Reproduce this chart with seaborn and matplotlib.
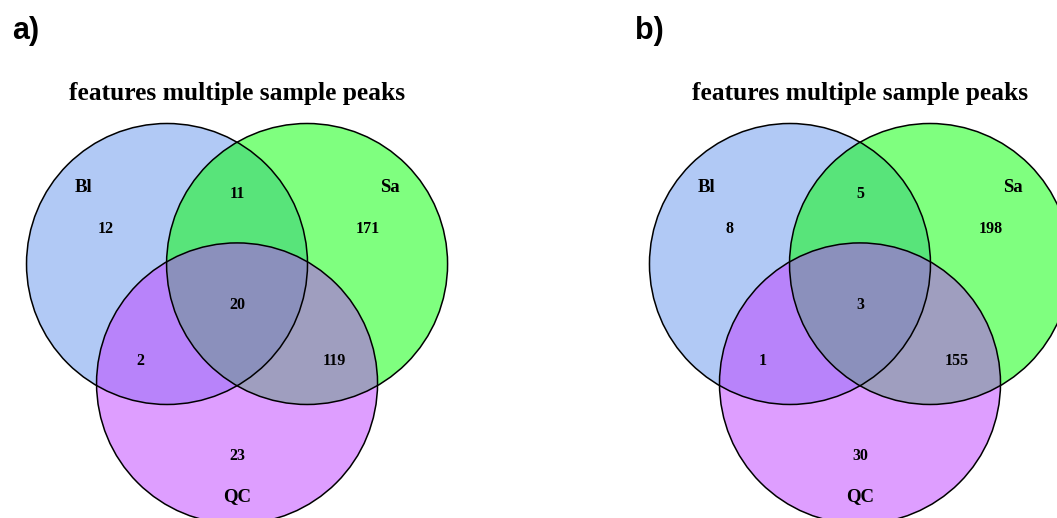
import numpy as np
import matplotlib
matplotlib.use("Agg")
import matplotlib.pyplot as plt
from matplotlib.patches import Circle
import seaborn as sns

# Set names and the count in each region of the three-way Venn diagrams
set_names = ["Bl", "Sa", "QC"]
region_keys = ["Bl", "Sa", "QC", "Bl&Sa", "Bl&QC", "Sa&QC", "Bl&Sa&QC"]
counts_a = [12, 171, 23, 11, 2, 119, 20]
counts_b = [8, 198, 30, 5, 1, 155, 3]
panel_tags = ["a)", "b)"]
panel_title = "features multiple sample peaks"

sns.set_theme(style="white")
plt.rcParams["font.family"] = ["Liberation Serif", "DejaVu Serif"]
plt.rcParams["text.color"] = "black"

set_colors = ["#6495ED", "#00FF00", "#BF3EFF"]

# Geometry in units of the circle radius
centers = {"Bl": (-0.4985, 0.0), "Sa": (0.4985, 0.0), "QC": (0.0, -0.85)}
region_pos = {
    "Bl": (-0.932, 0.249),
    "Sa": (0.932, 0.249),
    "QC": (0.0, -1.367),
    "Bl&Sa": (0.0, 0.498),
    "Bl&QC": (-0.690, -0.690),
    "Sa&QC": (0.690, -0.690),
    "Bl&Sa&QC": (0.0, -0.292),
}
name_pos = {"Bl": (-1.089, 0.541), "Sa": (1.089, 0.541), "QC": (0.0, -1.658)}
panel_offset = 4.434

fig = plt.figure(figsize=(10.57, 5.18), dpi=100)
ax = fig.add_axes([0, 0, 1, 1])
ax.set_xlim(-1.687, 5.836)
ax.set_ylim(-1.808, 1.879)
ax.set_aspect("equal")
ax.axis("off")

for p, counts in enumerate([counts_a, counts_b]):
    dx = p * panel_offset
    # translucent fills first, outlines afterwards so every edge stays black
    for name, col in zip(set_names, set_colors):
        cx, cy = centers[name]
        ax.add_patch(Circle((cx + dx, cy), 1.0, facecolor=col, alpha=0.5,
                            edgecolor="none", zorder=1))
    for name in set_names:
        cx, cy = centers[name]
        ax.add_patch(Circle((cx + dx, cy), 1.0, facecolor="none",
                            edgecolor="black", linewidth=1.1, zorder=2))
    for key, val in zip(region_keys, counts):
        x, y = region_pos[key]
        ax.text(x + dx, y, str(val), ha="center", va="center",
                fontsize=11.5, fontweight="bold", zorder=3)
    for name in set_names:
        x, y = name_pos[name]
        ax.text(x + dx, y, name, ha="center", va="center",
                fontsize=13.5, fontweight="bold", zorder=3)
    ax.text(dx, 1.217, panel_title, ha="center", va="center",
            fontsize=18.4, fontweight="bold")
    ax.text(-1.601 + dx, 1.655, panel_tags[p], ha="left", va="center",
            fontsize=22, fontweight="bold", family="Liberation Sans")

fig.savefig("out.png", dpi=100)
